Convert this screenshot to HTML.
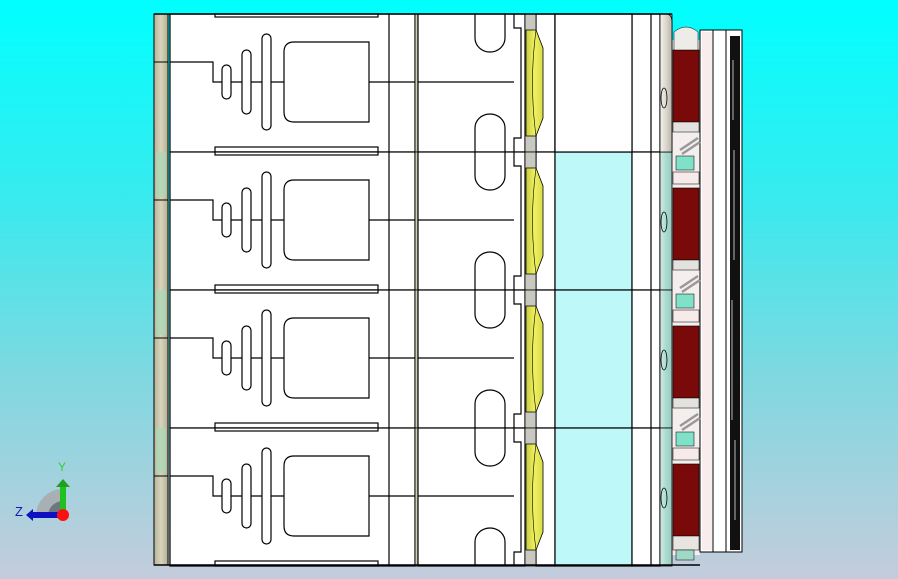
<!DOCTYPE html>
<html><head><meta charset="utf-8"><style>
html,body{margin:0;padding:0;width:898px;height:579px;overflow:hidden}
body{background:linear-gradient(#00ffff 0%,#3aeaee 35%,#80d8e0 65%,#c4ccdc 100%)}
svg{position:absolute;left:0;top:0}
</style></head><body>
<svg width="898" height="579" viewBox="0 0 898 579" xmlns="http://www.w3.org/2000/svg">
<defs>
<linearGradient id="beige" x1="0" x2="1"><stop offset="0" stop-color="#b8b498"/><stop offset=".5" stop-color="#d8d4bc"/><stop offset="1" stop-color="#b4b090"/></linearGradient>
<linearGradient id="endg" x1="0" x2="1"><stop offset="0" stop-color="#f4f2ec"/><stop offset=".5" stop-color="#dcd8d0"/><stop offset="1" stop-color="#b8b4ac"/></linearGradient>
<linearGradient id="endc" x1="0" x2="1"><stop offset="0" stop-color="#d8e8e4"/><stop offset=".5" stop-color="#a8dcd0"/><stop offset="1" stop-color="#9cc8c0"/></linearGradient>
<linearGradient id="yel" x1="0" x2="1"><stop offset="0" stop-color="#c8cc40"/><stop offset=".5" stop-color="#f0f060"/><stop offset="1" stop-color="#d8dc48"/></linearGradient>
<g id="row" stroke="#000" stroke-width="1.2" fill="none">
 <rect x="170" y="0" width="245" height="138" fill="#fff"/>
 <rect x="215" y="0" width="163" height="3" fill="#fff"/>
 <rect x="215" y="133" width="163" height="5" fill="#fff"/>
 <path d="M170 48 H213 V68 H285"/>
 <rect x="222" y="51" width="9" height="34" rx="4.5" fill="#fff"/>
 <rect x="242" y="36" width="9" height="64" rx="4.5" fill="#fff"/>
 <rect x="262" y="20" width="9" height="96" rx="4.5" fill="#fff"/>
 <path d="M294 28 H369 V108 H294 Q284 108 284 98 V38 Q284 28 294 28 Z" fill="#fff"/>
 <path d="M369 68 H415"/>
 <line x1="389" y1="0" x2="389" y2="138"/>
 <rect x="415" y="0" width="3" height="138" fill="url(#beige)" stroke-width="0.8"/>
 <rect x="418" y="0" width="107" height="138" fill="#fff"/>
 <path d="M475 0 V24 A15 14 0 0 0 505 24 V0"/>
 <path d="M475 138 V114 A15 14 0 0 1 505 114 V138"/>
 <path d="M418 68 H514"/>
 <path d="M514 0 V14 H521 V124 H514 V138"/>
 <rect x="536" y="0" width="19" height="138" fill="#fff"/>
 <rect x="525" y="0" width="11" height="138" fill="#c8c8c0" stroke-width="0.8"/>
 <path d="M526 16 H536 L543 34 V104 L536 122 H526 Z" fill="url(#yel)" stroke-width="0.8"/>
 <path d="M536 16 Q529 69 536 122" stroke-width="0.6"/>
 <rect x="555" y="0" width="77" height="138" fill="#bff8f8"/>
 <rect x="632" y="0" width="28" height="138" fill="#fff"/>
 <line x1="651" y1="0" x2="651" y2="138"/>
 <rect x="660" y="0" width="12" height="138" fill="url(#endc)" stroke-width="0.8"/>
 <ellipse cx="664" cy="70" rx="3" ry="10" stroke-width="0.8"/>
 <rect x="673" y="36" width="26" height="72" fill="#7a0a0a" stroke-width="0.6"/>
</g>
<g id="conn" stroke="#000" stroke-width="0.5">
 <rect x="673" y="-30" width="26" height="10" fill="#e4e2de"/>
 <path d="M680 -2 L698 -14 M682 2 L700 -10" stroke="#999" stroke-width="2.5"/>
 <rect x="676" y="4" width="18" height="14" fill="#80e0c8"/>
 <rect x="673" y="20" width="26" height="12" fill="#f6eaea"/>
</g>
</defs>
<rect x="154" y="14" width="14" height="551" fill="url(#beige)" stroke="#000" stroke-width="1"/>
<rect x="156" y="152" width="10" height="45" fill="#a8d8b8" opacity=".7"/>
<rect x="156" y="290" width="10" height="45" fill="#a8d8b8" opacity=".7"/>
<rect x="156" y="428" width="10" height="45" fill="#a8d8b8" opacity=".7"/>
<line x1="154" y1="62" x2="168" y2="62" stroke="#000"/>
<line x1="154" y1="200" x2="168" y2="200" stroke="#000"/>
<line x1="154" y1="338" x2="168" y2="338" stroke="#000"/>
<line x1="154" y1="476" x2="168" y2="476" stroke="#000"/>
<rect x="672" y="40" width="28" height="515" fill="#f4eeee"/>
<rect x="700" y="30" width="42" height="522" fill="#fff" stroke="#000" stroke-width="1"/>
<rect x="702" y="32" width="10" height="518" fill="#f8ecec"/>
<line x1="713" y1="30" x2="713" y2="552" stroke="#000"/>
<line x1="726" y1="30" x2="726" y2="552" stroke="#000"/>
<rect x="730" y="36" width="10" height="514" fill="#111"/>
<path d="M733 60 V120 M734 150 V260 M732 300 V420 M735 440 V520" stroke="#fff" stroke-width="0.7"/>
<use href="#row" transform="translate(0,14)"/>
<use href="#row" transform="translate(0,152)"/>
<use href="#row" transform="translate(0,290)"/>
<use href="#row" transform="translate(0,428)"/>
<use href="#conn" transform="translate(0,152)"/>
<use href="#conn" transform="translate(0,290)"/>
<use href="#conn" transform="translate(0,428)"/>
<rect x="555" y="14" width="77" height="138" fill="#fff" stroke="#000" stroke-width="1.2"/>
<path d="M660 14 H666 Q672 14 672 22 V152 H660 Z" fill="url(#endg)" stroke="#000" stroke-width="0.8"/>
<ellipse cx="664" cy="98" rx="3" ry="10" fill="none" stroke="#000" stroke-width="0.8"/>
<path d="M674 32 Q686 22 698 32 V50 H674 Z" fill="#ecece8" stroke="#000" stroke-width="0.5"/>
<rect x="673" y="536" width="26" height="14" fill="#e8e4e0" stroke="#000" stroke-width="0.5"/>
<rect x="676" y="550" width="18" height="10" fill="#a0d8c8" stroke="#000" stroke-width="0.5"/>
<line x1="154" y1="565" x2="700" y2="565" stroke="#000" stroke-width="1.5"/>
<line x1="154" y1="14" x2="672" y2="14" stroke="#000" stroke-width="1.5"/>
<path d="M36 516 A27 27 0 0 1 63 489 V516 Z" fill="#a8b0b4"/>
<path d="M48 516 A15 15 0 0 1 63 501 V516 Z" fill="#6c7880"/>
<rect x="60" y="486" width="6" height="28" fill="#20c020"/>
<path d="M56 487 L63 479 L70 487 Z" fill="#20a020"/>
<rect x="32" y="512" width="30" height="6" fill="#1010c0"/>
<path d="M33 509 L26 515 L33 521 Z" fill="#1010c0"/>
<circle cx="63" cy="515" r="6" fill="#ff1010"/>
<text x="58" y="471" font-family="Liberation Sans, sans-serif" font-size="12" fill="#30d030">Y</text>
<text x="15" y="516" font-family="Liberation Sans, sans-serif" font-size="13" fill="#1818b0">Z</text>
</svg>
</body></html>
